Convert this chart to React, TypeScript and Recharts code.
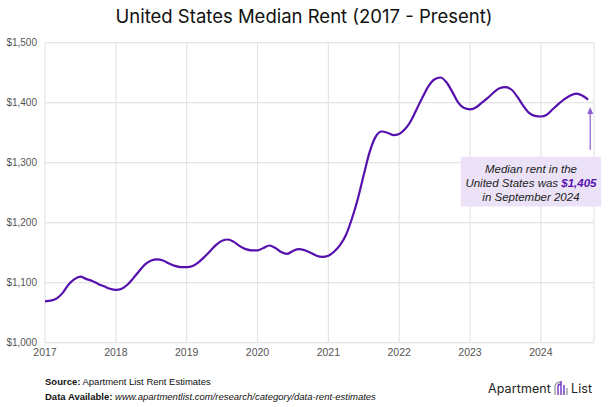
import React from 'react';
import {
  LineChart,
  Line,
  XAxis,
  YAxis,
  CartesianGrid,
  ReferenceArea,
  ReferenceLine,
  ReferenceDot,
} from 'recharts';

// monthly median rent (Jan..Dec)
const rent2017 = [1069, 1070, 1074, 1083, 1097, 1106, 1110, 1106, 1103, 1098, 1094, 1090];
const rent2018 = [1088, 1090, 1097, 1108, 1120, 1131, 1137, 1139, 1137, 1132, 1128, 1126];
const rent2019 = [1126, 1128, 1134, 1143, 1153, 1163, 1170, 1172, 1168, 1161, 1156, 1154];
const rent2020 = [1154, 1158, 1162, 1158, 1151, 1148, 1153, 1156, 1154, 1150, 1145, 1143];
const rent2021 = [1145, 1152, 1163, 1180, 1207, 1240, 1280, 1318, 1343, 1352, 1350, 1346];
const rent2022 = [1348, 1356, 1370, 1390, 1410, 1428, 1439, 1442, 1434, 1418, 1400, 1391];
const rent2023 = [1389, 1392, 1400, 1408, 1417, 1424, 1426, 1422, 1410, 1395, 1383, 1378];
const rent2024 = [1377, 1380, 1389, 1398, 1406, 1412, 1415, 1412, 1405];

const years = [2017, 2018, 2019, 2020, 2021, 2022, 2023, 2024];
const rentByYear = [rent2017, rent2018, rent2019, rent2020, rent2021, rent2022, rent2023, rent2024];
const rentTicks = [1000, 1100, 1200, 1300, 1400, 1500];

const data = years.flatMap((yr, i) =>
  rentByYear[i].map((v, m) => ({ t: yr + m / 12, rent: v }))
);
const last = data[data.length - 1];

const PURPLE = '#5610ad';
const GRID = '#e4e4e4';
const AXIS_FONT = 'Liberation Sans, Arial, Helvetica, sans-serif';

const fmtMoney = (v: number) => `$${v.toLocaleString('en-US')}`;

const NoteLabel = (props: any) => {
  const { viewBox } = props;
  const cx = viewBox.x + viewBox.width / 2;
  const top = viewBox.y;
  return (
    <text
      x={cx}
      y={top}
      textAnchor="middle"
      fontFamily={AXIS_FONT}
      fontStyle="italic"
      fontSize={11.5}
      fill="#222"
    >
      <tspan x={cx} dy={16}>Median rent in the</tspan>
      <tspan x={cx} dy={14}>
        United States was{' '}
        <tspan fill={PURPLE} fontWeight="bold">{fmtMoney(last.rent)}</tspan>
      </tspan>
      <tspan x={cx} dy={14}>in September 2024</tspan>
    </text>
  );
};

const ArrowHead = (props: any) => {
  const { cx, cy } = props;
  return <path d={`M${cx - 3},${cy + 7} L${cx},${cy} L${cx + 3},${cy + 7} Z`} fill="#8e5fcc" />;
};

const Logo = () => (
  <div
    style={{
      position: 'absolute',
      left: 488,
      top: 379,
      display: 'flex',
      alignItems: 'center',
      fontFamily: 'Inter, "Noto Sans", sans-serif',
      fontSize: 12.5,
      color: '#222',
      letterSpacing: 0.1,
    }}
  >
    <span>Apartment</span>
    <svg width={16} height={18} viewBox="0 0 16 18" style={{ margin: '0 2px' }}>
      <path d="M2 16 V8 A5 5 0 0 1 7 3" stroke="#9aa0a6" strokeWidth={1.4} fill="none" />
      <path d="M5 16 V8 A3 3 0 0 1 8 5" stroke="#6d2fc0" strokeWidth={1.4} fill="none" />
      <path d="M8 16 V2" stroke="#6d2fc0" strokeWidth={1.4} />
      <path d="M11 16 V6" stroke="#6d2fc0" strokeWidth={1.4} />
      <path d="M14 16 V9" stroke="#9aa0a6" strokeWidth={1.4} />
    </svg>
    <span>List</span>
  </div>
);

export default function App() {
  return (
    <div style={{ position: 'absolute', left: 0, top: 0, width: 608, height: 407, background: '#fff' }}>
      <div
        style={{
          position: 'absolute',
          top: 4,
          left: 0,
          width: 608,
          textAlign: 'center',
          fontFamily: 'Inter, "Noto Sans", sans-serif',
          fontSize: 18.5,
          color: '#111',
          lineHeight: '24px',
        }}
      >
        United States Median Rent (2017 - Present)
      </div>

      <LineChart
        width={608}
        height={407}
        data={data}
        margin={{ top: 42.7, right: 14, bottom: 40.3, left: 0 }}
      >
        <CartesianGrid stroke={GRID} strokeWidth={1.2} />
        <XAxis
          dataKey="t"
          type="number"
          domain={[2017, 2024.75]}
          ticks={years}
          tickFormatter={(v: number) => String(v)}
          axisLine={false}
          tickLine={false}
          tickSize={0}
          tickMargin={6}
          height={24}
          tick={{ fill: '#555', fontSize: 10.5, fontFamily: AXIS_FONT }}
        />
        <YAxis
          type="number"
          domain={[1000, 1500]}
          ticks={rentTicks}
          tickFormatter={fmtMoney}
          axisLine={false}
          tickLine={false}
          tickSize={0}
          tickMargin={8}
          width={45}
          tick={{ fill: '#555', fontSize: 10, fontFamily: AXIS_FONT }}
        />
        <ReferenceArea
          x1={2022.87}
          x2={2024.85}
          y1={1227}
          y2={1310}
          fill="#ebe2f7"
          fillOpacity={1}
          stroke="none"
          ifOverflow="visible"
          label={<NoteLabel />}
        />
        <ReferenceLine
          segment={[
            { x: last.t + 0.03, y: 1321 },
            { x: last.t + 0.03, y: 1386 },
          ]}
          stroke="#8e5fcc"
          strokeWidth={1.2}
          ifOverflow="visible"
        />
        <ReferenceDot x={last.t + 0.03} y={1393} r={3} shape={<ArrowHead />} ifOverflow="visible" />
        <Line
          type="monotone"
          dataKey="rent"
          stroke={PURPLE}
          strokeWidth={2.2}
          dot={false}
          isAnimationActive={false}
        />
      </LineChart>

      <div
        style={{
          position: 'absolute',
          left: 45,
          top: 374,
          fontFamily: AXIS_FONT,
          fontSize: 9.5,
          color: '#111',
          lineHeight: '15px',
        }}
      >
        <div>
          <b>Source:</b> Apartment List Rent Estimates
        </div>
        <div>
          <b>Data Available:</b> <i>www.apartmentlist.com/research/category/data-rent-estimates</i>
        </div>
      </div>
      <Logo />
    </div>
  );
}
